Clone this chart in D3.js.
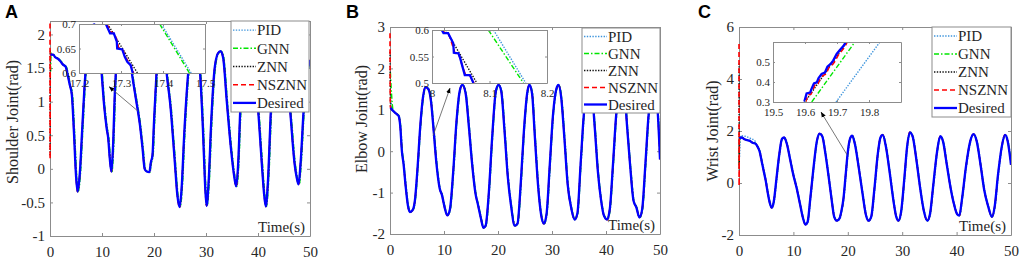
<!doctype html>
<html lang="en">
<head>
<meta charset="UTF-8">
<title>Joint angle tracking: PID, GNN, ZNN, NSZNN</title>
<script src="https://d3js.org/d3.v7.min.js"></script>
<style>
  body { margin: 0; background: #fff; }
</style>
</head>
<body>
<div id="chart"></div>
<script>

// ---------- data ----------
const methods = ['PID', 'GNN', 'ZNN', 'NSZNN', 'Desired'];
const timeTicks = [0, 10, 20, 30, 40, 50];

// Panel A: shoulder joint
const shoulderTicks = [-1, -0.5, 0, 0.5, 1, 1.5, 2];
const shoulderDesired = [
  [0.1,1.70],[0.6,1.70],[1.0,1.66],[1.5,1.64],[2.0,1.60],[2.5,1.55],[3.0,1.52],[3.4,1.40],[3.8,1.25],
  [4.2,1.10],[4.6,0.55],[5.0,-0.10],[5.3,-0.34],[5.7,-0.10],[6.2,0.60],[6.7,1.30],[7.2,1.75],[7.8,2.05],
  [8.5,2.15],[9.2,2.00],[9.9,1.45],[10.4,0.95],[10.9,0.60],[11.2,0.45],[11.5,0.15],[11.8,-0.04],[12.1,0.30],
  [12.5,1.20],[13.0,1.75],[13.6,2.05],[14.3,2.10],[15.0,1.90],[15.7,1.45],[16.5,1.05],[17.3,0.65],[17.8,0.30],
  [18.2,0.00],[18.6,-0.04],[19.1,-0.05],[19.4,0.10],[19.7,0.20],[20.0,0.70],[20.5,1.45],[21.0,1.95],[21.7,2.10],
  [22.4,1.45],[23.2,0.90],[24.0,0.10],[24.5,-0.40],[24.9,-0.57],[25.3,-0.30],[25.8,0.50],[26.6,1.45],[27.3,1.90],
  [28.0,2.00],[28.8,1.50],[29.4,0.60],[29.8,-0.20],[30.1,-0.55],[30.5,-0.20],[31.0,0.70],[31.6,1.45],[32.3,1.72],
  [32.8,1.75],[33.3,1.65],[34.0,1.00],[34.8,0.30],[35.4,-0.10],[35.8,-0.26],[36.2,0.10],[36.6,0.90],[37.3,1.60],
  [38.2,1.90],[39.2,1.60],[40.1,0.80],[40.8,0.00],[41.2,-0.40],[41.5,-0.56],[41.9,-0.20],[42.5,0.90],[43.3,1.60],
  [44.3,1.90],[45.3,1.60],[46.2,0.85],[47.0,0.10],[47.5,-0.15],[47.8,-0.23],[48.2,0.10],[48.8,0.90],[49.4,1.40],
  [50.0,1.62]
];
const shoulderStart = {
  PID: [[0,1.60],[0.08,1.72]],
  GNN: [[0,1.45],[0.08,1.74]],
  ZNN: [[0,0.20],[0.05,1.75]],
  NSZNN: [[0,2.40],[0.02,0.15],[0.06,1.72]]
};
const shoulderLag = { PID: 0.13, GNN: 0.13, ZNN: 0.01, NSZNN: 0 };
const shoulderZoomTicksX = [17.2, 17.3, 17.4, 17.5];
const shoulderZoomTicksY = [0.6, 0.65, 0.7];
const shoulderZoom = {
  PID: [[17.396,0.70],[17.467,0.60]],
  GNN: [[17.392,0.70],[17.463,0.60]],
  ZNN: [[17.268,0.70],[17.339,0.60]],
  NSZNN: [[17.266,0.700],[17.276,0.684],[17.285,0.680],[17.292,0.662],[17.294,0.652],[17.305,0.646],
          [17.311,0.632],[17.317,0.624],[17.325,0.612],[17.330,0.600]],
  Desired: [[17.264,0.700],[17.274,0.681],[17.283,0.681],[17.290,0.664],[17.291,0.650],[17.303,0.648],
            [17.309,0.633],[17.315,0.623],[17.323,0.616],[17.328,0.600]]
};

// Panel B: elbow joint
const elbowTicks = [-2, -1, 0, 1, 2, 3];
const elbowDesired = [
  [0.1,1.05],[0.6,0.97],[1.2,0.90],[1.6,0.85],[1.9,0.60],[2.2,0.00],[2.5,-0.30],[2.9,-0.85],[3.3,-1.30],
  [3.7,-1.47],[4.2,-1.42],[4.6,-1.20],[5.1,-0.40],[5.6,0.60],[6.1,1.30],[6.6,1.55],[7.1,1.50],[7.6,1.20],
  [8.05,0.55],[8.6,-0.30],[9.2,-0.90],[9.6,-1.05],[10.1,-1.35],[10.6,-1.55],[11.1,-1.40],[11.7,-0.50],
  [12.3,0.70],[12.9,1.45],[13.4,1.60],[14.0,1.40],[14.6,0.60],[15.2,-0.30],[15.8,-1.00],[16.3,-1.30],
  [16.8,-1.60],[17.3,-1.85],[17.7,-1.80],[18.3,-1.00],[18.9,0.30],[19.6,1.45],[20.1,1.60],[20.6,1.45],
  [21.2,0.50],[21.8,-0.60],[22.4,-1.30],[23.1,-1.80],[23.6,-1.75],[24.2,-0.80],[24.8,0.50],[25.4,1.40],
  [25.8,1.60],[26.3,1.40],[26.8,0.40],[27.4,-0.80],[28.0,-1.55],[28.5,-1.75],[29.0,-1.50],[29.6,-0.30],
  [30.2,0.90],[30.8,1.50],[31.2,1.60],[31.7,1.30],[32.3,0.30],[32.9,-0.80],[33.6,-1.40],[34.2,-1.65],
  [34.7,-1.50],[35.3,-0.30],[35.9,0.90],[36.6,1.60],[37.3,1.50],[37.9,0.60],[38.5,-0.50],[39.1,-1.20],
  [39.6,-1.55],[40.2,-1.65],[40.7,-1.40],[41.3,-0.30],[41.9,0.90],[42.6,1.55],[43.3,1.55],[43.9,0.60],
  [44.5,-0.40],[45.1,-1.20],[45.6,-1.35],[46.2,-1.60],[46.7,-1.40],[47.3,-0.30],[47.9,0.90],[48.6,1.50],
  [49.2,1.50],[49.6,0.90],[50.0,-0.20]
];
const elbowStart = {
  PID: [[0,1.30],[0.3,1.05]],
  GNN: [[0,1.90],[0.2,1.40],[0.45,1.02]],
  ZNN: [[0,2.40],[0.04,1.60],[0.09,1.08]],
  NSZNN: [[0,2.85],[0.03,1.60],[0.07,1.10]]
};
const elbowLag = { PID: 0.09, GNN: 0.08, ZNN: 0.01, NSZNN: 0 };
const elbowZoomTicksX = [8, 8.1, 8.2];
const elbowZoomTicksY = [0.5, 0.55, 0.6];
const elbowZoom = {
  PID: [[8.107,0.60],[8.163,0.50]],
  GNN: [[8.098,0.60],[8.159,0.50]],
  ZNN: [[8.024,0.60],[8.078,0.50]],
  NSZNN: [[8.018,0.600],[8.022,0.595],[8.029,0.593],[8.036,0.570],[8.040,0.556],[8.047,0.553],
          [8.052,0.535],[8.058,0.516],[8.066,0.514],[8.073,0.500]],
  Desired: [[8.017,0.600],[8.020,0.594],[8.028,0.594],[8.037,0.575],[8.038,0.557],[8.046,0.556],
            [8.049,0.547],[8.057,0.515],[8.066,0.515],[8.072,0.500]]
};

// Panel C: wrist joint
const wristTicks = [-2, 0, 2, 4, 6];
const wristDesired = [
  [0.1,1.72],[0.5,1.75],[1.0,1.68],[1.5,1.65],[2.0,1.62],[2.5,1.55],[3.0,1.52],[3.4,1.40],[3.8,1.20],
  [4.2,0.80],[4.5,0.50],[4.9,0.10],[5.3,-0.40],[5.7,-0.80],[6.0,-0.95],[6.4,-0.70],[6.9,0.20],[7.4,1.10],
  [7.9,1.70],[8.3,1.75],[8.8,1.50],[9.4,0.90],[10.0,0.30],[10.6,-0.20],[11.2,-0.80],[11.7,-1.30],[12.2,-1.60],
  [12.6,-1.50],[13.1,-0.60],[13.7,0.60],[14.3,1.60],[14.8,1.90],[15.3,1.80],[15.9,1.10],[16.5,0.20],[17.0,-0.60],
  [17.5,-1.30],[18.0,-1.45],[18.5,-1.35],[18.8,-1.10],[19.2,-0.60],[19.6,0.30],[20.0,1.20],[20.4,1.70],
  [20.8,1.82],[21.3,1.50],[22.0,0.60],[22.7,-0.40],[23.3,-1.20],[23.8,-1.45],[24.3,-1.30],[24.9,-0.20],
  [25.5,1.10],[26.0,1.75],[26.4,1.85],[27.0,1.40],[27.7,0.40],[28.4,-0.70],[28.9,-1.30],[29.3,-1.45],
  [29.8,-1.10],[30.4,0.20],[30.9,1.40],[31.4,1.95],[31.9,1.80],[32.6,0.90],[33.3,-0.20],[34.0,-1.10],
  [34.6,-1.45],[35.1,-1.20],[35.7,-0.10],[36.4,1.20],[37.0,1.80],[37.5,1.60],[38.2,0.70],[38.9,-0.20],
  [39.5,-0.80],[40.1,-1.20],[40.5,-1.25],[41.0,-0.60],[41.7,0.60],[42.5,1.60],[43.1,1.88],[43.7,1.60],
  [44.4,0.70],[45.1,-0.30],[45.8,-0.90],[46.5,-1.30],[47.0,-0.90],[47.6,0.30],[48.3,1.40],[48.9,1.85],
  [49.4,1.60],[50.0,0.70]
];
const wristStart = {
  PID: [[0,1.00],[0.2,1.82],[1.0,1.80],[2.0,1.72],[2.9,1.60]],
  GNN: [[0,0.70],[0.08,1.75]],
  ZNN: [[0,4.60],[0.03,0.50],[0.07,1.70]],
  NSZNN: [[0,5.35],[0.02,-0.10],[0.06,1.70]]
};
const wristLag = { PID: 0.10, GNN: 0.03, ZNN: 0.01, NSZNN: 0 };
const wristZoomTicksX = [19.5, 19.6, 19.7, 19.8];
const wristZoomTicksY = [0.3, 0.4, 0.5];
const wristZoom = {
  PID: [[19.697,0.30],[19.834,0.60]],
  GNN: [[19.621,0.30],[19.756,0.60]],
  ZNN: [[19.600,0.30],[19.730,0.60]],
  NSZNN: [[19.602,0.300],[19.609,0.335],[19.619,0.340],[19.625,0.362],[19.632,0.388],[19.641,0.392],
          [19.646,0.412],[19.656,0.432],[19.666,0.440],[19.674,0.470],[19.684,0.483],[19.692,0.500],
          [19.703,0.532],[19.713,0.553],[19.724,0.574],[19.732,0.600]],
  Desired: [[19.598,0.302],[19.605,0.343],[19.616,0.347],[19.621,0.368],[19.628,0.393],[19.637,0.398],
            [19.642,0.418],[19.652,0.440],[19.662,0.447],[19.670,0.477],[19.680,0.490],[19.688,0.507],
            [19.699,0.540],[19.709,0.560],[19.720,0.580],[19.728,0.600]]
};

// ---------- styles ----------
const SERIF = '"Liberation Serif", "Times New Roman", serif';
const AXIS = '#8c8c8c';
const INK = '#262626';
const lineStyle = {
  PID:     { color: '#3f95dc', dash: '1.4,1.4', width: 1.4 },
  GNN:     { color: '#00e600', dash: '5,2,1.5,2', width: 1.4 },
  ZNN:     { color: '#111111', dash: '1.4,1.4', width: 1.4 },
  NSZNN:   { color: '#ff0000', dash: '5,3', width: 1.6 },
  Desired: { color: '#0000ff', dash: null, width: 2.3 }
};

const svg = d3.select('#chart').append('svg')
    .attr('width', 1021)
    .attr('height', 259);

const panels = [
  { id: 'A', left: 50, right: 310, top: 21, bottom: 236, yDomain: [-1, 2.2], yTicks: shoulderTicks,
    desired: shoulderDesired, start: shoulderStart, lag: shoulderLag, ylabel: 'Shoulder Joint(rad)',
    letterX: 5, ylabelX: 18, ylabelY: 122,
    inset: { left: 79, right: 205, top: 24, bottom: 73, xDomain: [17.2, 17.5], yDomain: [0.6, 0.7],
             xTicks: shoulderZoomTicksX, yTicks: shoulderZoomTicksY, data: shoulderZoom },
    legend: { x: 231, y: 21, w: 78, h: 91 },
    arrow: [[16.9, 0.86], [11.4, 1.22]] },
  { id: 'B', left: 390, right: 660, top: 27, bottom: 234, yDomain: [-2, 3], yTicks: elbowTicks,
    desired: elbowDesired, start: elbowStart, lag: elbowLag, ylabel: 'Elbow Joint(rad)',
    letterX: 346, ylabelX: 367, ylabelY: 119,
    inset: { left: 432, right: 547, top: 30, bottom: 83, xDomain: [8.0, 8.2], yDomain: [0.5, 0.6],
             xTicks: elbowZoomTicksX, yTicks: elbowZoomTicksY, data: elbowZoom },
    legend: { x: 582, y: 28, w: 78, h: 85 },
    arrow: [[8.0, 0.38], [11.1, 1.52]] },
  { id: 'C', left: 739, right: 1011, top: 27, bottom: 235, yDomain: [-2, 6], yTicks: wristTicks,
    desired: wristDesired, start: wristStart, lag: wristLag, ylabel: 'Wrist Joint(rad)',
    letterX: 698, ylabelX: 718, ylabelY: 131,
    inset: { left: 773, right: 901, top: 42, bottom: 102, xDomain: [19.5, 19.9], yDomain: [0.3, 0.6],
             xTicks: wristZoomTicksX, yTicks: wristZoomTicksY, data: wristZoom },
    legend: { x: 932, y: 27, w: 79, h: 90 },
    arrow: [[19.85, 1.09], [15.1, 2.72]] }
];

// arrow head
svg.append('defs').append('marker')
    .attr('id', 'head')
    .attr('viewBox', '0 0 10 10')
    .attr('refX', 9).attr('refY', 5)
    .attr('markerWidth', 7).attr('markerHeight', 7)
    .attr('orient', 'auto')
  .append('path')
    .attr('d', 'M0,1 L10,5 L0,9 Z')
    .attr('fill', '#000');

// MATLAB-like box with inward ticks on all four sides
function drawBox(g, x, y, xTicks, yTicks, fontSize, tick, padX, padY) {
  const [x0, x1] = x.range();
  const [y0, y1] = y.range();
  const fmt = d => String(d);
  const style = sel => {
    sel.attr('font-family', SERIF).attr('font-size', fontSize);
    sel.select('.domain').attr('stroke', AXIS);
    sel.selectAll('.tick line').attr('stroke', AXIS);
    sel.selectAll('.tick text').attr('fill', INK);
  };
  g.append('g').attr('transform', `translate(0,${y0})`)
      .call(d3.axisBottom(x).tickValues(xTicks).tickFormat(fmt).tickSizeInner(-tick).tickSizeOuter(0).tickPadding(padX))
      .call(style);
  g.append('g').attr('transform', `translate(0,${y1})`)
      .call(d3.axisTop(x).tickValues(xTicks).tickFormat(() => '').tickSizeInner(-tick).tickSizeOuter(0))
      .call(style);
  g.append('g').attr('transform', `translate(${x0},0)`)
      .call(d3.axisLeft(y).tickValues(yTicks).tickFormat(fmt).tickSizeInner(-tick).tickSizeOuter(0).tickPadding(padY))
      .call(style);
  g.append('g').attr('transform', `translate(${x1},0)`)
      .call(d3.axisRight(y).tickValues(yTicks).tickFormat(() => '').tickSizeInner(-tick).tickSizeOuter(0))
      .call(style);
}

function seriesFor(p, m) {
  if (m === 'Desired') return p.desired;
  const s = p.start[m];
  const tEnd = s[s.length - 1][0];
  return s.concat(p.desired.filter(d => d[0] > tEnd));
}

panels.forEach(p => {
  const g = svg.append('g');
  const x = d3.scaleLinear().domain([0, 50]).range([p.left, p.right]);
  const y = d3.scaleLinear().domain(p.yDomain).range([p.bottom, p.top]);

  g.append('clipPath').attr('id', 'clip' + p.id)
    .append('rect')
      .attr('x', p.left - 2).attr('y', p.top)
      .attr('width', p.right - p.left + 2).attr('height', p.bottom - p.top);

  drawBox(g, x, y, timeTicks, p.yTicks, 15, 3, 10, 5);

  // curves
  const curves = g.append('g').attr('clip-path', `url(#clip${p.id})`);
  methods.forEach(m => {
    const lag = m === 'Desired' ? 0 : p.lag[m];
    const line = d3.line()
        .x(d => x(d[0] + lag))
        .y(d => y(d[1]))
        .curve(d3.curveMonotoneX);
    const st = lineStyle[m];
    curves.append('path')
        .datum(seriesFor(p, m))
        .attr('fill', 'none')
        .attr('stroke', st.color)
        .attr('stroke-width', st.width)
        .attr('stroke-dasharray', st.dash)
        .attr('stroke-linejoin', 'round')
        .attr('d', line);
  });

  // labels
  g.append('text')
      .attr('x', p.right - 5).attr('y', p.bottom - 4)
      .attr('text-anchor', 'end')
      .attr('font-family', SERIF).attr('font-size', 15).attr('fill', INK)
      .text('Time(s)');
  g.append('text')
      .attr('transform', `translate(${p.ylabelX},${p.ylabelY}) rotate(-90)`)
      .attr('text-anchor', 'middle')
      .attr('font-family', SERIF).attr('font-size', 16).attr('fill', INK)
      .text(p.ylabel);
  g.append('text')
      .attr('x', p.letterX).attr('y', 18)
      .attr('font-family', '"Liberation Sans", Arial, sans-serif')
      .attr('font-weight', 'bold').attr('font-size', 18).attr('fill', '#000')
      .text(p.id);

  // zoomed inset
  const ins = p.inset;
  const gi = g.append('g');
  const xi = d3.scaleLinear().domain(ins.xDomain).range([ins.left, ins.right]);
  const yi = d3.scaleLinear().domain(ins.yDomain).range([ins.bottom, ins.top]);
  gi.append('rect')
      .attr('x', ins.left).attr('y', ins.top)
      .attr('width', ins.right - ins.left).attr('height', ins.bottom - ins.top)
      .attr('fill', '#fff');
  gi.append('clipPath').attr('id', 'iclip' + p.id)
    .append('rect')
      .attr('x', ins.left).attr('y', ins.top)
      .attr('width', ins.right - ins.left).attr('height', ins.bottom - ins.top);
  const icurves = gi.append('g').attr('clip-path', `url(#iclip${p.id})`);
  methods.forEach(m => {
    const st = lineStyle[m];
    icurves.append('path')
        .datum(ins.data[m])
        .attr('fill', 'none')
        .attr('stroke', st.color)
        .attr('stroke-width', st.width)
        .attr('stroke-dasharray', st.dash)
        .attr('d', d3.line().x(d => xi(d[0])).y(d => yi(d[1])));
  });
  drawBox(gi, xi, yi, ins.xTicks, ins.yTicks, 11, 2, 6, 3);

  // legend
  const lg = p.legend;
  const gl = g.append('g').attr('transform', `translate(${lg.x},${lg.y})`);
  gl.append('rect')
      .attr('width', lg.w).attr('height', lg.h)
      .attr('fill', '#fff').attr('stroke', AXIS);
  const rowH = lg.h / methods.length;
  methods.forEach((m, i) => {
    const st = lineStyle[m];
    const cy = rowH * (i + 0.5);
    gl.append('line')
        .attr('x1', 2).attr('x2', 25).attr('y1', cy).attr('y2', cy)
        .attr('stroke', st.color)
        .attr('stroke-width', st.width)
        .attr('stroke-dasharray', st.dash);
    gl.append('text')
        .attr('x', 26).attr('y', cy)
        .attr('dy', '0.35em')
        .attr('font-family', SERIF).attr('font-size', 15).attr('fill', INK)
        .text(m);
  });

  // arrow from the curve to the inset
  g.append('line')
      .attr('x1', x(p.arrow[0][0])).attr('y1', y(p.arrow[0][1]))
      .attr('x2', x(p.arrow[1][0])).attr('y2', y(p.arrow[1][1]))
      .attr('stroke', '#555')
      .attr('stroke-width', 0.8)
      .attr('marker-end', 'url(#head)');
});

</script>
</body>
</html>
